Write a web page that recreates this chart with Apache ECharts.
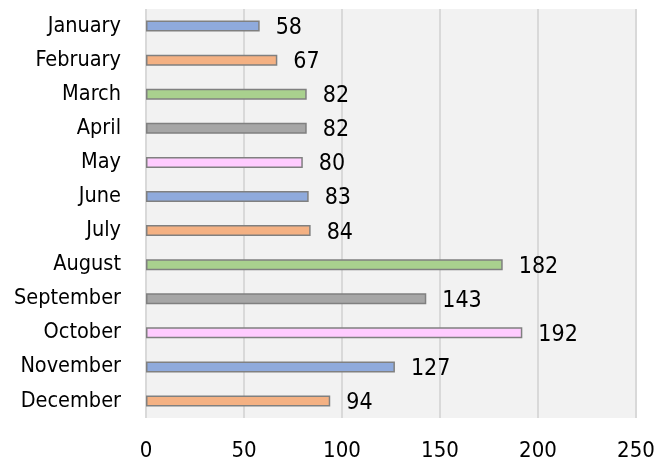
<!DOCTYPE html>
<html>
<head>
<meta charset="utf-8">
<script src="https://cdn.jsdelivr.net/npm/echarts@6/dist/echarts.min.js"></script>
<style>
  html, body { margin: 0; padding: 0; background: #fff; }
  #chart { width: 656px; height: 459px; }
</style>
</head>
<body>
<div id="chart"></div>
<script>
// data
var months = ["January", "February", "March", "April", "May", "June",
  "July", "August", "September", "October", "November", "December"];
var values = [58, 67, 82, 82, 80, 83, 84, 182, 143, 192, 127, 94];
var barColors = ["#8faadc", "#f4b183", "#a9d18e", "#a6a6a6", "#ffccff"];

var chart = echarts.init(document.getElementById("chart"));

var option = {
  animation: false,
  textStyle: { fontFamily: "DejaVu Sans Condensed" },
  grid: {
    left: 146, right: 20, top: 9, bottom: 41,
    outerBoundsMode: "none",
    backgroundColor: "#f2f2f2", show: true, borderWidth: 0
  },
  xAxis: {
    type: "value",
    min: 0,
    max: 250,
    interval: 50,
    axisLine: { show: false },
    axisTick: { show: false },
    splitLine: { lineStyle: { color: "#d9d9d9", width: 2 } },
    axisLabel: { color: "#000", fontSize: 22, margin: 22 }
  },
  yAxis: {
    type: "category",
    inverse: true,
    data: months,
    axisLine: { show: false },
    axisTick: { show: false },
    axisLabel: { color: "#000", fontSize: 21.5, margin: 25, padding: [4, 0, 0, 0] }
  },
  series: [{
    type: "bar",
    barWidth: 11,
    data: values.map(function (v, i) {
      return { value: v, itemStyle: { color: barColors[i % barColors.length] } };
    }),
    itemStyle: { borderColor: "#808080", borderWidth: 1.5 },
    label: {
      show: true,
      position: "right",
      distance: 16,
      color: "#000",
      fontSize: 23,
      offset: [0, 2]
    }
  }]
};

chart.setOption(option);
</script>
</body>
</html>
